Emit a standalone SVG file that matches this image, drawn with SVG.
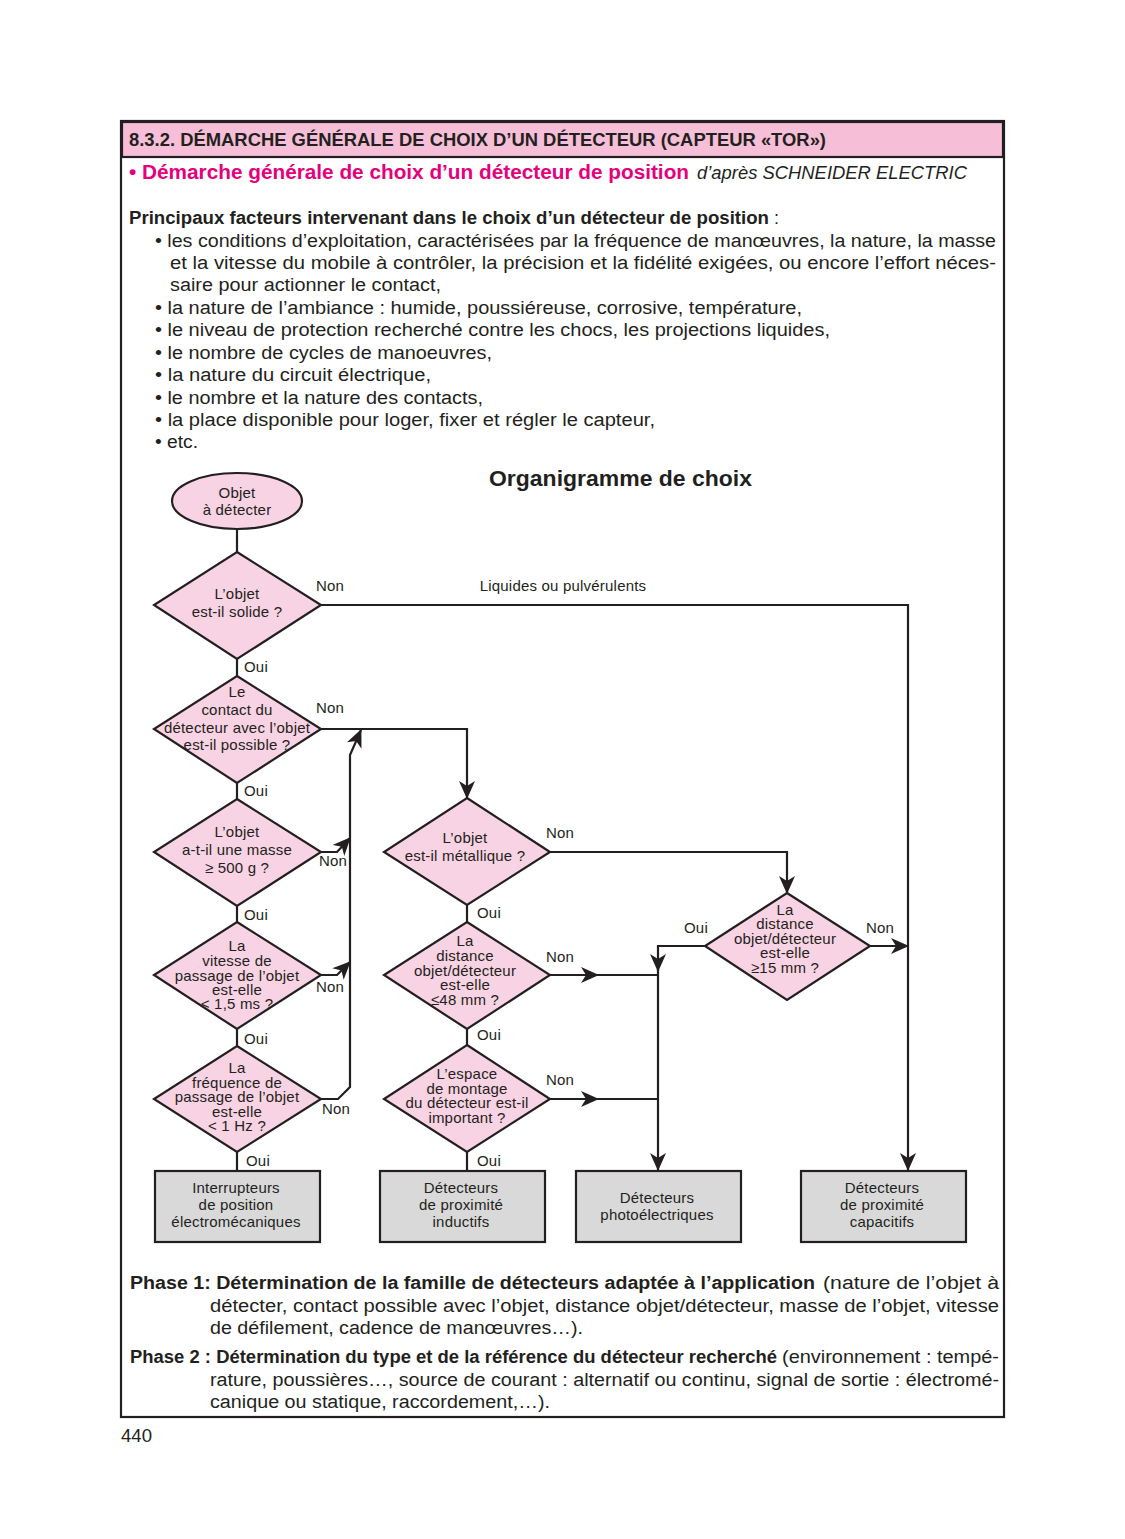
<svg xmlns="http://www.w3.org/2000/svg" width="1125" height="1539" viewBox="0 0 1125 1539">
<defs>
<style>
.t{font-family:"Liberation Sans",Arial,sans-serif;fill:#231f20}
.b{font-weight:bold}
.fc{font-family:"Liberation Sans",Arial,sans-serif;font-size:15px;letter-spacing:0.2px;fill:#231f20;text-anchor:middle}
.lb{font-family:"Liberation Sans",Arial,sans-serif;font-size:15px;letter-spacing:0.2px;fill:#231f20}
.dia{fill:#f8d3e3;stroke:#231f20;stroke-width:2.2}
.box{fill:#d9d9d9;stroke:#231f20;stroke-width:2.2}
.ln{fill:none;stroke:#231f20;stroke-width:2.2}
</style>
<marker id="ah" viewBox="0 0 18 16" markerWidth="18" markerHeight="16" refX="17" refY="8" orient="auto" markerUnits="userSpaceOnUse">
<path d="M0,0 L18,8 L0,16 L5,8 z" fill="#231f20"/>
</marker>
</defs>
<rect x="0" y="0" width="1125" height="1539" fill="#ffffff"/>

<!-- frame and header -->
<rect x="121" y="121" width="883" height="1296" fill="none" stroke="#231f20" stroke-width="2.2"/>
<rect x="122" y="122" width="881" height="35" fill="#f6bfd7" stroke="#231f20" stroke-width="2.2"/>
<text class="t b" x="129" y="146" font-size="18" textLength="697" lengthAdjust="spacingAndGlyphs">8.3.2. DÉMARCHE GÉNÉRALE DE CHOIX D’UN DÉTECTEUR (CAPTEUR «TOR»)</text>
<text x="129" y="179" font-family="Liberation Sans,Arial,sans-serif" font-size="20" font-weight="bold" fill="#e5007e" textLength="560" lengthAdjust="spacingAndGlyphs">• Démarche générale de choix d’un détecteur de position</text>
<text class="t" x="697" y="179" font-size="19" font-style="italic" textLength="270" lengthAdjust="spacingAndGlyphs">d’après SCHNEIDER ELECTRIC</text>

<!-- body text -->
<g id="intro">
<text class="t b" x="129" y="224" font-size="18" textLength="640" lengthAdjust="spacingAndGlyphs">Principaux facteurs intervenant dans le choix d’un détecteur de position</text>
<text class="t" x="774" y="224" font-size="18">:</text>
<text class="t" x="155" y="247" font-size="18" textLength="841" lengthAdjust="spacingAndGlyphs">• les conditions d’exploitation, caractérisées par la fréquence de manœuvres, la nature, la masse</text>
<text class="t" x="170" y="269" font-size="18" textLength="826" lengthAdjust="spacingAndGlyphs">et la vitesse du mobile à contrôler, la précision et la fidélité exigées, ou encore l’effort néces-</text>
<text class="t" x="170" y="291" font-size="18" textLength="271" lengthAdjust="spacingAndGlyphs">saire pour actionner le contact,</text>
<text class="t" x="155" y="314" font-size="18" textLength="647" lengthAdjust="spacingAndGlyphs">• la nature de l’ambiance : humide, poussiéreuse, corrosive, température,</text>
<text class="t" x="155" y="336" font-size="18" textLength="675" lengthAdjust="spacingAndGlyphs">• le niveau de protection recherché contre les chocs, les projections liquides,</text>
<text class="t" x="155" y="359" font-size="18" textLength="337" lengthAdjust="spacingAndGlyphs">• le nombre de cycles de manoeuvres,</text>
<text class="t" x="155" y="381" font-size="18" textLength="276" lengthAdjust="spacingAndGlyphs">• la nature du circuit électrique,</text>
<text class="t" x="155" y="404" font-size="18" textLength="328" lengthAdjust="spacingAndGlyphs">• le nombre et la nature des contacts,</text>
<text class="t" x="155" y="426" font-size="18" textLength="500" lengthAdjust="spacingAndGlyphs">• la place disponible pour loger, fixer et régler le capteur,</text>
<text class="t" x="155" y="448" font-size="18" textLength="43" lengthAdjust="spacingAndGlyphs">• etc.</text>
</g>

<text class="t b" x="489" y="486" font-size="22" textLength="263" lengthAdjust="spacingAndGlyphs">Organigramme de choix</text>

<!-- connectors -->
<g id="connectors">
<path class="ln" d="M237,529 V552"/>
<path class="ln" d="M237,659 V676"/>
<path class="ln" d="M237,783 V799"/>
<path class="ln" d="M237,906 V922"/>
<path class="ln" d="M237,1029 V1046"/>
<path class="ln" d="M237,1152 V1171"/>
<path class="ln" d="M321,605 H908 V1170" marker-end="url(#ah)"/>
<path class="ln" d="M321,729 H467 V798" marker-end="url(#ah)"/>
<path class="ln" d="M321,852 H337 L350,838" marker-end="url(#ah)"/>
<path class="ln" d="M321,975 H337 L350,962" marker-end="url(#ah)"/>
<path class="ln" d="M321,1099 H338 L350,1087 V755 L361,730" marker-end="url(#ah)"/>
<path class="ln" d="M467,905 V922"/>
<path class="ln" d="M467,1029 V1045"/>
<path class="ln" d="M467,1152 V1171"/>
<path class="ln" d="M550,852 H787 V893" marker-end="url(#ah)"/>
<path class="ln" d="M550,975 H598" marker-end="url(#ah)"/>
<path class="ln" d="M596,975 H658"/>
<path class="ln" d="M550,1099 H598" marker-end="url(#ah)"/>
<path class="ln" d="M596,1099 H658"/>
<path class="ln" d="M705,946 H658 V971" marker-end="url(#ah)"/>
<path class="ln" d="M658,969 V1170" marker-end="url(#ah)"/>
<path class="ln" d="M870,946 H908" marker-end="url(#ah)"/>
</g>

<!-- connector labels -->
<g id="labels">
<text class="lb" x="316" y="591">Non</text>
<text class="fc" x="563" y="591">Liquides ou pulvérulents</text>
<text class="lb" x="244" y="672">Oui</text>
<text class="lb" x="316" y="713">Non</text>
<text class="lb" x="244" y="796">Oui</text>
<text class="lb" x="319" y="866">Non</text>
<text class="lb" x="244" y="920">Oui</text>
<text class="lb" x="316" y="992">Non</text>
<text class="lb" x="244" y="1044">Oui</text>
<text class="lb" x="322" y="1114">Non</text>
<text class="lb" x="246" y="1166">Oui</text>
<text class="lb" x="546" y="838">Non</text>
<text class="lb" x="477" y="918">Oui</text>
<text class="lb" x="546" y="962">Non</text>
<text class="lb" x="477" y="1040">Oui</text>
<text class="lb" x="546" y="1085">Non</text>
<text class="lb" x="477" y="1166">Oui</text>
<text class="lb" x="684" y="933">Oui</text>
<text class="lb" x="866" y="933">Non</text>
</g>

<!-- nodes -->
<g id="start">
<ellipse cx="237" cy="501" rx="65" ry="28" class="dia"/>
<text class="fc" x="237" y="498">Objet</text>
<text class="fc" x="237" y="515">à détecter</text>
</g>
<g id="q-solide">
<polygon class="dia" points="237,552 321,605 237,659 154,605"/>
<text class="fc" x="237" y="599">L’objet</text>
<text class="fc" x="237" y="617">est-il solide ?</text>
</g>
<g id="q-contact">
<polygon class="dia" points="237,676 321,729 237,783 154,729"/>
<text class="fc" x="237" y="697">Le</text>
<text class="fc" x="237" y="715">contact du</text>
<text class="fc" x="237" y="733">détecteur avec l’objet</text>
<text class="fc" x="237" y="750">est-il possible ?</text>
</g>
<g id="q-masse">
<polygon class="dia" points="237,799 321,852 237,906 154,852"/>
<text class="fc" x="237" y="837">L’objet</text>
<text class="fc" x="237" y="855">a-t-il une masse</text>
<text class="fc" x="237" y="873">≥ 500 g ?</text>
</g>
<g id="q-vitesse">
<polygon class="dia" points="237,922 321,975 237,1029 154,975"/>
<text class="fc" x="237" y="951">La</text>
<text class="fc" x="237" y="966">vitesse de</text>
<text class="fc" x="237" y="981">passage de l’objet</text>
<text class="fc" x="237" y="995">est-elle</text>
<text class="fc" x="237" y="1009">&lt; 1,5 ms ?</text>
</g>
<g id="q-frequence">
<polygon class="dia" points="237,1046 321,1099 237,1152 154,1099"/>
<text class="fc" x="237" y="1073">La</text>
<text class="fc" x="237" y="1088">fréquence de</text>
<text class="fc" x="237" y="1102">passage de l’objet</text>
<text class="fc" x="237" y="1117">est-elle</text>
<text class="fc" x="237" y="1131">&lt; 1 Hz ?</text>
</g>
<g id="q-metallique">
<polygon class="dia" points="467,798 550,852 467,905 384,852"/>
<text class="fc" x="465" y="843">L’objet</text>
<text class="fc" x="465" y="861">est-il métallique ?</text>
</g>
<g id="q-48mm">
<polygon class="dia" points="467,922 550,975 467,1029 384,975"/>
<text class="fc" x="465" y="946">La</text>
<text class="fc" x="465" y="961">distance</text>
<text class="fc" x="465" y="976">objet/détecteur</text>
<text class="fc" x="465" y="990">est-elle</text>
<text class="fc" x="465" y="1005">≤48 mm ?</text>
</g>
<g id="q-espace">
<polygon class="dia" points="467,1045 550,1099 467,1152 384,1099"/>
<text class="fc" x="467" y="1079">L’espace</text>
<text class="fc" x="467" y="1094">de montage</text>
<text class="fc" x="467" y="1108">du détecteur est-il</text>
<text class="fc" x="467" y="1123">important ?</text>
</g>
<g id="q-15mm">
<polygon class="dia" points="787,893 870,946 787,1000 705,946"/>
<text class="fc" x="785" y="915">La</text>
<text class="fc" x="785" y="929">distance</text>
<text class="fc" x="785" y="944">objet/détecteur</text>
<text class="fc" x="785" y="958">est-elle</text>
<text class="fc" x="785" y="973">≥15 mm ?</text>
</g>
<g id="r-interrupteurs">
<rect class="box" x="155" y="1171" width="165" height="71"/>
<text class="fc" x="236" y="1193">Interrupteurs</text>
<text class="fc" x="236" y="1210">de position</text>
<text class="fc" x="236" y="1227">électromécaniques</text>
</g>
<g id="r-inductifs">
<rect class="box" x="380" y="1171" width="165" height="71"/>
<text class="fc" x="461" y="1193">Détecteurs</text>
<text class="fc" x="461" y="1210">de proximité</text>
<text class="fc" x="461" y="1227">inductifs</text>
</g>
<g id="r-photo">
<rect class="box" x="576" y="1171" width="165" height="71"/>
<text class="fc" x="657" y="1203">Détecteurs</text>
<text class="fc" x="657" y="1220">photoélectriques</text>
</g>
<g id="r-capacitifs">
<rect class="box" x="801" y="1171" width="165" height="71"/>
<text class="fc" x="882" y="1193">Détecteurs</text>
<text class="fc" x="882" y="1210">de proximité</text>
<text class="fc" x="882" y="1227">capacitifs</text>
</g>

<!-- phases -->
<g id="phases">
<text class="t b" x="130" y="1289" font-size="18" textLength="685" lengthAdjust="spacingAndGlyphs">Phase 1: Détermination de la famille de détecteurs adaptée à l’application</text>
<text class="t" x="823" y="1289" font-size="18" textLength="176" lengthAdjust="spacingAndGlyphs">(nature de l’objet à</text>
<text class="t" x="210" y="1312" font-size="18" textLength="789" lengthAdjust="spacingAndGlyphs">détecter, contact possible avec l’objet, distance objet/détecteur, masse de l’objet, vitesse</text>
<text class="t" x="210" y="1334" font-size="18" textLength="373" lengthAdjust="spacingAndGlyphs">de défilement, cadence de manœuvres…).</text>
<text class="t b" x="130" y="1363" font-size="18" textLength="647" lengthAdjust="spacingAndGlyphs">Phase 2 : Détermination du type et de la référence du détecteur recherché</text>
<text class="t" x="782" y="1363" font-size="18" textLength="217" lengthAdjust="spacingAndGlyphs">(environnement : tempé-</text>
<text class="t" x="210" y="1386" font-size="18" textLength="789" lengthAdjust="spacingAndGlyphs">rature, poussières…, source de courant : alternatif ou continu, signal de sortie : électromé-</text>
<text class="t" x="210" y="1408" font-size="18" textLength="340" lengthAdjust="spacingAndGlyphs">canique ou statique, raccordement,…).</text>
</g>
<text class="t" x="121" y="1442" font-size="18" textLength="31" lengthAdjust="spacingAndGlyphs">440</text>
</svg>
